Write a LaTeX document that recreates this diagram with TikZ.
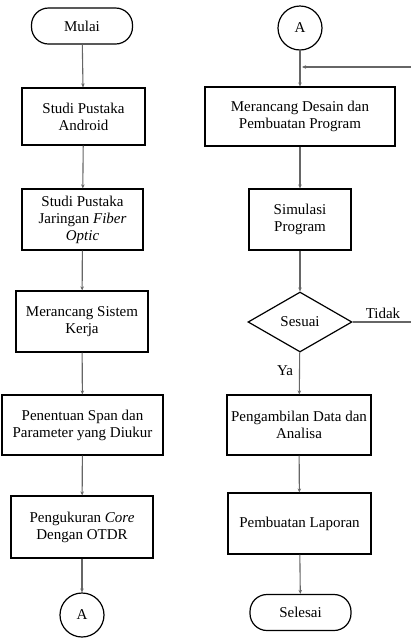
\documentclass[tikz,border=0pt]{standalone}
\usepackage{fontspec}
\setmainfont{Liberation Serif}
\usetikzlibrary{shapes.geometric,arrows.meta}

\tikzset{
  proses/.style={draw, line width=1.2pt, align=center, inner sep=2pt},
  ujung/.style={draw, line width=1.2pt, rounded corners=17pt, minimum width=101pt, minimum height=36pt},
  konektor/.style={draw, circle, line width=1.2pt, minimum size=44pt, inner sep=0pt},
  alur/.style={->, line width=1.1pt, black!60},
}

\begin{document}
\begin{tikzpicture}[x=1pt, y=-1pt, >={Stealth[length=4pt,width=3.5pt]},
  every node/.style={font=\fontsize{15}{17}\selectfont}]
\useasboundingbox (0,0) rectangle (411,638);

% kolom kiri
\node[ujung] (mulai) at (82,26) {Mulai};
\node[proses, minimum width=123pt, minimum height=57pt] (android) at (83.5,116.5) {Studi Pustaka\\Android};
\node[proses, minimum width=121pt, minimum height=61pt] (fiber) at (82.5,219.5) {Studi Pustaka\\Jaringan \textit{Fiber}\\\textit{Optic}};
\node[proses, minimum width=132pt, minimum height=61pt] (sistem) at (82,321.5) {Merancang Sistem\\Kerja};
\node[proses, minimum width=161pt, minimum height=60pt] (span) at (82.5,425) {Penentuan Span dan\\Parameter yang Diukur};
\node[proses, minimum width=142pt, minimum height=62pt] (core) at (82,527) {Pengukuran \textit{Core}\\Dengan OTDR};
\node[konektor] (akiri) at (82,615) {A};

\draw[alur] (mulai) -- (android);
\draw[alur] (android) -- (fiber);
\draw[alur] (fiber) -- (sistem);
\draw[alur] (sistem) -- (span);
\draw[alur] (span) -- (core);
\draw[alur] (core) -- (akiri);

% kolom kanan
\node[konektor] (akanan) at (300,28) {A};
\node[proses, minimum width=190pt, minimum height=59pt] (desain) at (300,116.5) {Merancang Desain dan\\Pembuatan Program};
\node[proses, minimum width=102pt, minimum height=61pt] (simulasi) at (300,219.5) {Simulasi\\Program};
\node[draw, diamond, line width=1.2pt, aspect=1.73, minimum width=104pt, minimum height=60pt, inner sep=0pt] (sesuai) at (300,322) {Sesuai};
\node[proses, minimum width=144pt, minimum height=60pt] (data) at (299,425) {Pengambilan Data dan\\Analisa};
\node[proses, minimum width=143pt, minimum height=61pt] (laporan) at (299.5,523.5) {Pembuatan Laporan};
\node[ujung] (selesai) at (300.5,612.5) {Selesai};

\node (tidak) at (383,313) {Tidak};
\node (ya) at (285,371) {Ya};

\coordinate (gabung) at (300,67);
\coordinate (kembali) at (411,67);
\coordinate (keluar) at (411,322);

\draw[alur] (akanan) -- (desain);
\draw[alur] (kembali) -- ([xshift=2pt]gabung);
\draw[alur] (desain) -- (simulasi);
\draw[alur] (simulasi) -- (sesuai);
\draw[line width=1.1pt, black!60] (sesuai.east) -- (keluar);
\draw[alur] (sesuai) -- (data);
\draw[alur] (data) -- (laporan);
\draw[alur] (laporan) -- (selesai);

\end{tikzpicture}
\end{document}
